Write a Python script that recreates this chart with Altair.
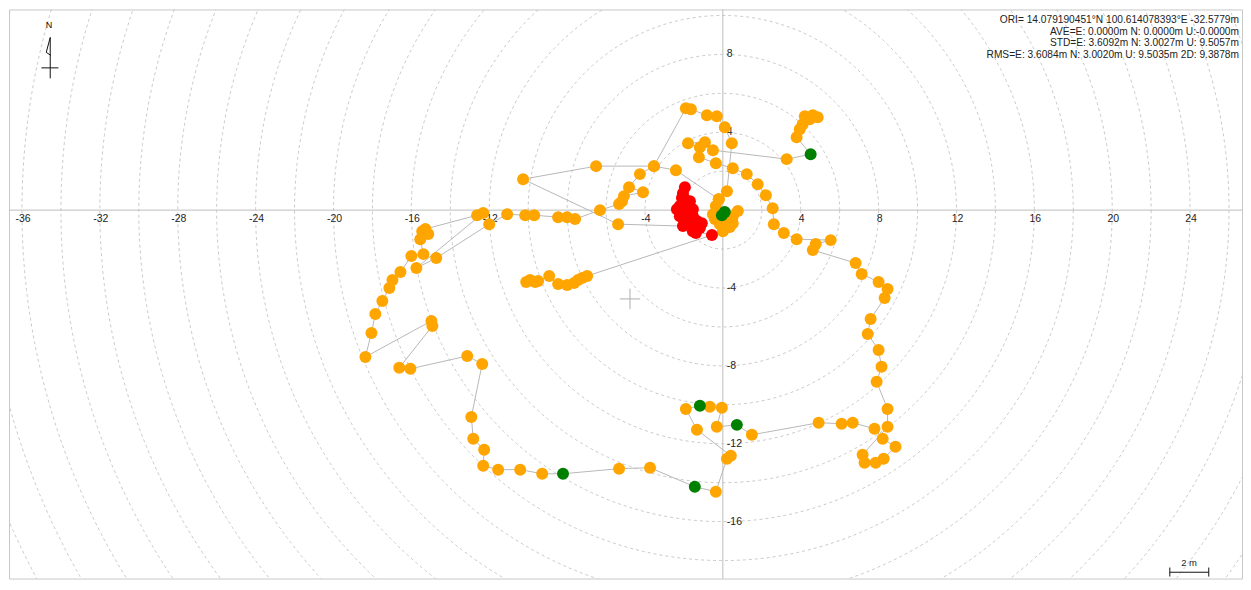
import altair as alt
import pandas as pd

# ---------------- layout (pixels) ----------------
W, H = 1235, 570
K = 19.5            # pixels per metre
X0, Y0 = 715, 201   # origin position inside the plot area
XMIN, XMAX = -X0 / K, (W - X0) / K
YMIN, YMAX = -(H - Y0) / K, Y0 / K

# ---------------- data (metres, E / N) ----------------
# track segment A: centre -> north -> west -> red cluster -> south-west cluster
seg_a_x = [0.10, -0.05, 0.77, 0.51, 0.46, 0.26, 0.51, 0.36, 0.10, 0.00, -0.15, -0.41, -0.51,
           -0.26, -0.36, -0.21, 0.21, 0.46, 0.10, -0.31, -0.82, -1.64, -1.90, -3.54, -6.51,
           -10.26, -5.38,
           -2.05, -1.95, -2.21, -2.36, -2.21, -2.10, -2.05, -1.95, -1.95, -1.69, -2.05, -1.79,
           -1.54, -1.54, -1.85, -1.59, -1.33, -1.08, -1.18, -1.38, -1.54, -0.56,
           -6.97, -7.23, -7.44, -7.64, -8.00, -8.46, -8.92, -9.49, -9.64, -9.90, -10.10]
seg_a_y = [-0.10, -0.26, -0.05, -0.31, -0.46, -0.67, -0.67, -0.87, -0.92, -1.08, -0.72, -0.46, -0.21,
           -0.05, 0.21, 0.56, 0.97, 3.44, 4.26, 4.82, 4.87, 5.18, 5.23, 2.26, 2.26,
           1.59, -0.72,
           -0.82, -0.67, -0.31, 0.05, 0.21, 0.62, 0.87, 1.18, 0.56, 0.46, 0.10, -0.05,
           0.05, -0.31, -0.41, -0.56, -0.56, -0.67, -0.92, -1.18, -1.08, -1.28,
           -3.38, -3.49, -3.59, -3.74, -3.85, -3.79, -3.38, -3.64, -3.69, -3.59, -3.69]
seg_a_c = "gg" + "o" * 25 + "r" * 22 + "o" * 11

# track segment B: the big loop (west, south, east, back north)
seg_b_x = [-0.21, -2.41, -3.54, -4.26, -4.82, -4.10, -5.08, -5.18, -5.33, -6.31, -7.59, -8.00,
           -8.46, -9.69, -10.15, -11.08, -12.00, -14.72, -15.74, -12.31, -12.62, -15.28, -15.44,
           -15.13, -15.54, -15.38, -16.00, -16.56, -16.97, -17.13, -17.49, -17.85, -18.05, -18.36,
           -14.97, -14.92, -16.62, -16.05, -13.13, -12.36, -12.92, -12.82, -12.26, -12.31, -11.54,
           -10.41, -9.28, -8.21, -5.33, -3.74, -1.44, -0.36, 0.21, 0.41, -1.33, -1.90, -1.18,
           -0.67, -0.05, -0.31, 0.72, 1.49, 4.92, 6.10, 6.67, 7.79, 8.21, 8.87, 8.26, 7.85, 7.28,
           7.18, 8.46, 8.46, 7.90, 8.15, 8.00, 7.44, 7.59, 8.31, 8.46, 8.00, 7.13, 6.82, 4.62,
           4.77, 5.54, 3.79, 3.13, 2.62, 2.56, 2.21, 1.79, 1.23, 0.51, -0.36, -1.23, -1.18, -1.79,
           -0.92, -0.51, 3.28, 4.51, 3.79, 3.95, 4.10, 4.46, 4.21, 4.62, 4.87]
seg_b_y = [0.56, 2.05, 2.26, 1.85, 1.18, 0.92, 0.72, 0.46, 0.31, 0.00, -0.46, -0.36,
           -0.36, -0.26, -0.26, -0.21, -0.72, -2.46, -2.97, -0.15, -0.26, -0.97, -1.08,
           -1.23, -1.49, -2.26, -2.36, -3.18, -3.59, -4.00, -4.67, -5.33, -6.31, -7.54,
           -5.69, -5.95, -8.10, -8.15, -7.49, -7.90, -10.62, -11.74, -12.31, -13.13, -13.33,
           -13.33, -13.54, -13.54, -13.28, -13.23, -14.21, -14.46, -12.77, -12.62, -11.28, -10.21, -10.05,
           -10.10, -10.15, -11.13, -11.03, -11.54, -10.92, -10.97, -10.92, -11.23, -11.74, -12.15, -12.77, -12.97, -12.97,
           -12.56, -11.13, -10.21, -8.82, -8.05, -7.18, -6.36, -5.59, -4.51, -4.05, -3.69, -3.28, -2.72, -2.05,
           -1.74, -1.54, -1.49, -1.18, -0.72, 0.10, 0.77, 1.33, 1.85, 2.15, 2.41, 2.72, 3.23, 3.44,
           3.49, 3.08, 2.62, 2.87, 3.74, 4.15, 4.41, 4.67, 4.82, 4.87, 4.77]
seg_b_c = "o" * 47 + "g" + "oo" + "g" + "o" * 5 + "g" + "ooo" + "g" + "o" * 41 + "g" + "o" * 7

ring_radii = [2, 4, 6, 8, 10, 12, 14, 16, 18, 20, 22, 24, 26, 28, 30, 32, 34, 36, 38, 40, 42]
x_ticks = [-36, -32, -28, -24, -20, -16, -12, -8, -4, 4, 8, 12, 16, 20, 24]
y_ticks = [8, 4, -4, -8, -12, -16]
mean_e, mean_n = [-4.77], [-4.56]

info_lines = [
    "ORI= 14.079190451°N  100.614078393°E -32.5779m",
    "AVE=E: 0.0000m N: 0.0000m U:-0.0000m",
    "STD=E: 3.6092m N: 3.0027m U: 9.5057m",
    "RMS=E: 3.6084m N: 3.0020m U: 9.5035m 2D: 9.3878m",
]
scale_label = "2 m"

# ---------------- tables ----------------
rows = []
for s, (xs, ys, cs) in enumerate([(seg_a_x, seg_a_y, seg_a_c), (seg_b_x, seg_b_y, seg_b_c)]):
    assert len(xs) == len(ys) == len(cs), (len(xs), len(ys), len(cs))
    for i, (x, y, c) in enumerate(zip(xs, ys, cs)):
        rows.append({"seg": s, "i": i, "e": x, "n": y, "c": c})
track = pd.DataFrame(rows)
order_key = {"o": 0, "r": 1, "g": 2}
pts = track.assign(k=track["c"].map(order_key)).sort_values(["k", "seg", "i"], kind="stable")

rings = pd.DataFrame({"r": ring_radii, "e": 0.0, "n": 0.0})
rings["size"] = (2 * rings["r"] * K) ** 2

xs_scale = alt.Scale(domain=[XMIN, XMAX], nice=False, zero=False)
ys_scale = alt.Scale(domain=[YMIN, YMAX], nice=False, zero=False)
X = alt.X("e:Q", scale=xs_scale, axis=None)
Y = alt.Y("n:Q", scale=ys_scale, axis=None)

FONT = "Liberation Sans"
GRID = "#c8c8c8"

ring_layer = alt.Chart(rings).mark_point(
    shape="circle", filled=False, clip=True, stroke=GRID, strokeWidth=1,
    strokeDash=[3, 3], opacity=1
).encode(x=X, y=Y, size=alt.Size("size:Q", scale=None, legend=None))

axes_df = pd.DataFrame({"e": [0.0], "n": [0.0]})
vrule = alt.Chart(axes_df).mark_rule(color="#bdbdbd", strokeWidth=1).encode(x=X)
hrule = alt.Chart(axes_df).mark_rule(color="#bdbdbd", strokeWidth=1).encode(y=Y)

xlab = alt.Chart(pd.DataFrame({"e": x_ticks, "n": 0.0, "t": [str(v) for v in x_ticks]})).mark_text(
    font=FONT, fontSize=10.5, color="#222", align="center", baseline="top", dy=4, dx=1
).encode(x=X, y=Y, text="t:N")
ylab = alt.Chart(pd.DataFrame({"e": 0.0, "n": y_ticks, "t": [str(v) for v in y_ticks]})).mark_text(
    font=FONT, fontSize=10.5, color="#222", align="left", baseline="middle", dx=4
).encode(x=X, y=Y, text="t:N")

mean_layer = alt.Chart(pd.DataFrame({"e": mean_e, "n": mean_n})).mark_point(
    shape="M-1,0L1,0M0,-1L0,1", filled=False, stroke="#b0b0b0", strokeWidth=1, size=420, opacity=1
).encode(x=X, y=Y)

lines = alt.Chart(track).mark_line(color="#b8b8b8", strokeWidth=1).encode(
    x=X, y=Y, detail="seg:N", order="i:Q"
)
points = alt.Chart(pts).mark_circle(size=144, opacity=1).encode(
    x=X, y=Y,
    color=alt.Color("c:N", scale=alt.Scale(domain=["o", "r", "g"],
                                           range=["#FFA500", "#FF0000", "#008000"]), legend=None),
    order=alt.Order("k:Q"),
)

# north arrow (top-left)
north_txt = alt.Chart().mark_text(text="N", font=FONT, fontSize=9, color="#000",
                                  align="center", baseline="middle").encode(
    x=alt.value(40), y=alt.value(16))
n1 = alt.Chart().mark_rule(color="#111", strokeWidth=1).encode(
    x=alt.value(41.3), y=alt.value(28), y2=alt.value(69))
n2 = alt.Chart().mark_rule(color="#111", strokeWidth=1).encode(
    x=alt.value(32.5), x2=alt.value(49.5), y=alt.value(58.5))
n3 = alt.Chart().mark_rule(color="#111", strokeWidth=1).encode(
    x=alt.value(41.3), x2=alt.value(37.3), y=alt.value(28), y2=alt.value(43))
n4 = alt.Chart().mark_rule(color="#111", strokeWidth=1).encode(
    x=alt.value(37.3), x2=alt.value(42), y=alt.value(43), y2=alt.value(46))

# scale bar (bottom-right)
sb1 = alt.Chart().mark_rule(color="#111", strokeWidth=1).encode(
    x=alt.value(1162.7), x2=alt.value(1162.7 + 2 * K), y=alt.value(563.7))
sb2 = alt.Chart().mark_rule(color="#111", strokeWidth=1).encode(
    x=alt.value(1162.7), y=alt.value(559), y2=alt.value(568))
sb3 = alt.Chart().mark_rule(color="#111", strokeWidth=1).encode(
    x=alt.value(1162.7 + 2 * K), y=alt.value(559), y2=alt.value(568))
sb_txt = alt.Chart().mark_text(text=scale_label, font=FONT, fontSize=9.5, color="#222",
                               align="center", baseline="middle").encode(
    x=alt.value(1182), y=alt.value(554))

info = alt.Chart().mark_text(text=info_lines, font=FONT, fontSize=10.2, color="#222",
                             align="right", baseline="top", lineHeight=11.4).encode(
    x=alt.value(1232), y=alt.value(6))

chart = alt.layer(
    ring_layer, vrule, hrule, xlab, ylab, mean_layer, lines, points,
    north_txt, n1, n2, n3, n4, sb1, sb2, sb3, sb_txt, info
).properties(width=W, height=H, padding=0, background="white").configure_view(
    stroke="#c8c8c8", strokeWidth=1
)

chart.save("out.html", embed_options={"renderer": "svg", "actions": False})
